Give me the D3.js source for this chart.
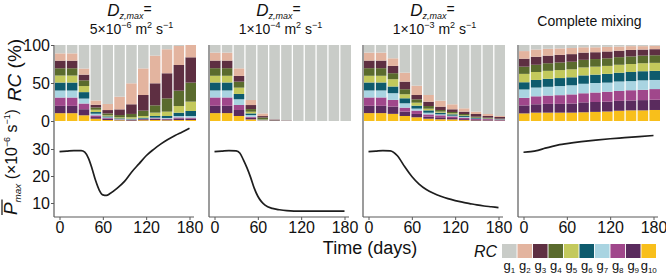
<!DOCTYPE html>
<html>
<head>
<meta charset="utf-8">
<script src="https://cdn.jsdelivr.net/npm/d3@7"></script>
<style>
  body { margin: 0; background: #fff; }
  svg { display: block; font-family: "Liberation Sans", Arial, sans-serif; }
</style>
</head>
<body>
<svg id="chart" width="666" height="275"></svg>
<script>
// Groups g1..g10 and their colours
const groups = ['g1', 'g2', 'g3', 'g4', 'g5', 'g6', 'g7', 'g8', 'g9', 'g10'];
const groupColors = ['#c9ccc8', '#e3b49f', '#5e2f42', '#5a6b2d', '#c3c95c',
                     '#0e5b6d', '#a9d4e1', '#a0478b', '#5a2b5e', '#f8bf1b'];

// Sampling days of the RC bars
const barDays = [15, 30, 45, 60, 75, 90, 105, 120, 135, 150, 165, 180];

// Relative contribution (%) per bar, g1..g10
const rc5e6 = [
  [11, 9.6, 10, 9.6, 9.2, 10.5, 9.2, 11, 9.6, 10.3],
  [11, 9.6, 10, 9.6, 9.2, 10.5, 9.2, 11, 9.6, 10.3],
  [31, 8, 7.5, 7.5, 8, 8.5, 6.5, 7.5, 8, 7.5],
  [73, 5.7, 3.5, 3, 3, 2.2, 2.2, 2.2, 2.2, 3],
  [77.6, 8, 4.4, 2.6, 1.3, 1.3, 0.9, 0.9, 1.7, 1.3],
  [68, 16.7, 7.5, 3, 1.3, 0.9, 0.4, 0.4, 0.9, 0.9],
  [50.4, 27.6, 12.7, 4.4, 1.8, 0.9, 0.4, 0.4, 0.9, 0.5],
  [30.8, 35, 20.6, 7, 2.2, 1.3, 0.4, 0.4, 1.3, 1],
  [14, 36.4, 29, 9.6, 4.4, 2.2, 0.9, 0.9, 1.3, 1.3],
  [5.6, 31.6, 33, 17.5, 5.7, 2.6, 0.9, 0.9, 1.3, 0.9],
  [1.3, 25, 33.8, 20.2, 8.8, 4.4, 1.8, 1.3, 2.1, 1.3],
  [0, 16.2, 33.3, 25, 12.3, 6.6, 2.2, 1.3, 1.8, 1.3],
];
const rc1e4 = [
  [10, 10.5, 10, 10, 8.8, 10.5, 9.2, 11, 9.6, 10.4],
  [10, 10.5, 10, 10, 8.8, 10.5, 9.2, 11, 9.6, 10.4],
  [30.7, 10, 7.5, 7.9, 8.3, 7, 7.5, 6.6, 7.9, 6.6],
  [72.4, 6.6, 5.3, 3.5, 2.2, 2.2, 2.2, 1.3, 2.2, 2.1],
  [90, 3.5, 1.8, 2.6, 0.4, 0.4, 0.4, 0.2, 0.3, 0.4],
  [97.8, 0.2, 1.3, 0.2, 0.1, 0.1, 0.1, 0.05, 0.1, 0.05],
  [99.2, 0.1, 0.5, 0.1, 0, 0, 0, 0, 0.1, 0],
  [100, 0, 0, 0, 0, 0, 0, 0, 0, 0],
  [100, 0, 0, 0, 0, 0, 0, 0, 0, 0],
  [100, 0, 0, 0, 0, 0, 0, 0, 0, 0],
  [100, 0, 0, 0, 0, 0, 0, 0, 0, 0],
  [100, 0, 0, 0, 0, 0, 0, 0, 0, 0],
];
const rc1e3 = [
  [10, 10.5, 10, 10, 8.8, 10.5, 9.2, 11, 9.6, 10.4],
  [10, 10.5, 10, 10, 8.8, 10.5, 9.2, 11, 9.6, 10.4],
  [17.5, 10, 9.6, 7.9, 9.6, 8.8, 8.8, 8.8, 9.6, 9.4],
  [36.4, 11.8, 10, 6.6, 5.3, 6.6, 5.7, 5.3, 5.7, 6.6],
  [53.5, 12.3, 5.7, 4.4, 3.9, 3.9, 2.6, 4.4, 4.4, 4.9],
  [65.8, 8.8, 5.7, 3.5, 2.2, 3.1, 2.2, 3.1, 2.6, 3],
  [73.2, 7.9, 4.4, 2.2, 1.3, 2.2, 1.3, 2.6, 2.6, 2.3],
  [78, 6.6, 3.5, 1.8, 1.3, 1.8, 0.9, 2.2, 1.8, 2.1],
  [83.3, 4.4, 3.1, 1.8, 0.9, 1.3, 0.9, 1.8, 1.3, 1.2],
  [87.7, 3.1, 3.5, 1.3, 0.4, 0.9, 0.4, 1.3, 0.9, 0.5],
  [90.8, 2.6, 2.2, 0.9, 0.4, 0.4, 0.2, 1.3, 0.8, 0.4],
  [93.4, 1.3, 2.2, 0.4, 0.2, 0.4, 0.2, 0.9, 0.7, 0.3],
];
const rcMix = [
  [8, 10, 10.5, 9.5, 11, 9.5, 11, 10, 10.5, 10],
  [6, 9.5, 10.5, 9.5, 10.5, 10, 11.5, 10.5, 11, 11],
  [5, 9, 10, 10, 10.5, 10.5, 11.5, 11, 11.5, 11],
  [4.5, 8.5, 10, 10, 10.5, 10.5, 12, 11.5, 11.5, 11],
  [4, 8, 10, 10, 10.5, 10.5, 12, 12, 12, 11],
  [3, 7, 9.5, 10, 10.5, 11, 12.5, 12, 13, 11.5],
  [3, 6.5, 9, 10, 10.5, 11, 12.5, 12.5, 13, 12],
  [2.5, 6, 9, 10, 10.5, 11.5, 12, 13, 13, 12.5],
  [2, 5.5, 8.5, 10, 10.5, 11.5, 12.5, 13, 13, 13.5],
  [1.5, 5, 8.5, 10, 10.5, 12, 12, 13.5, 13, 14],
  [1.5, 4.5, 8, 10, 10.5, 12, 12.5, 13.5, 13.5, 14],
  [1, 4.5, 8, 10, 10.5, 12, 12, 14, 13.5, 14.5],
];

// Mean Pmax (x10^-6 s^-1) over time
const days5e6 = [0, 10, 20, 30, 35, 40, 45, 50, 55, 60, 65, 70, 80, 90, 100, 110, 120, 130, 140, 150, 160, 170, 180];
const pmax5e6 = [29, 29.2, 29.4, 29.4, 28.8, 26.6, 22.8, 18.3, 14.8, 13, 12.8, 13.5, 15.5, 18, 21.5, 24.5, 27.5, 29.8, 31.8, 33.5, 35, 36.3, 37.7];
const days1e4 = [0, 10, 20, 30, 35, 40, 45, 50, 55, 60, 65, 70, 80, 90, 100, 120, 150, 180];
const pmax1e4 = [29, 29.2, 29.4, 29.3, 28.5, 26, 23, 19.5, 15.5, 12.5, 10.5, 9.2, 8, 7.5, 7.2, 7, 7, 7];
const days1e3 = [0, 10, 20, 30, 40, 50, 60, 70, 80, 90, 100, 110, 120, 130, 140, 150, 160, 170, 180];
const pmax1e3 = [29, 29.2, 29.4, 29.3, 27.5, 23.5, 19.8, 17, 15, 13.6, 12.5, 11.6, 10.9, 10.3, 9.8, 9.3, 8.9, 8.6, 8.3];
const daysMix = [0, 10, 20, 30, 40, 50, 60, 80, 100, 120, 140, 160, 180];
const pmaxMix = [28.8, 29, 29.5, 30.3, 31, 31.6, 32, 32.7, 33.3, 33.8, 34.2, 34.6, 35];

const timeTicks = [0, 60, 120, 180];
const rcTicks = [0, 50, 100];
const pmaxTicks = [10, 20, 30];

const panels = [
  {exp: '5×10', pow: '−6', rc: rc5e6, days: days5e6, pmax: pmax5e6},
  {exp: '1×10', pow: '−4', rc: rc1e4, days: days1e4, pmax: pmax1e4},
  {exp: '1×10', pow: '−3', rc: rc1e3, days: days1e3, pmax: pmax1e3},
  {title: 'Complete mixing', rc: rcMix, days: daysMix, pmax: pmaxMix},
];

// Layout
const axisXs = [54, 209, 363, 518];
const titleDx = [6, 0, 0, 0];
const axisColor = '#5a5a5a';
const svg = d3.select('#chart');

const yRC = d3.scaleLinear().domain([0, 100]).range([121, 45]);
const yP = d3.scaleLinear().domain([10, 30]).range([203, 149]);
const xAxisY = 217;

const stack = d3.stack().keys(groups.slice().reverse());
const color = d3.scaleOrdinal().domain(groups).range(groupColors);

panels.forEach((p, i) => {
  const ax = axisXs[i];
  const g = svg.append('g');

  const xBand = d3.scaleBand().domain(barDays).range([ax + 1, ax + 142]).paddingInner(0.11);
  const xT = d3.scaleLinear().domain([0, 180]).range([ax + 5.5, ax + 135.5]);

  // stacked RC bars
  const rows = p.rc.map((vals, j) => {
    const row = {day: barDays[j]};
    groups.forEach((k, n) => row[k] = vals[n]);
    return row;
  });
  g.selectAll('g.layer')
    .data(stack(rows))
    .join('g')
      .attr('class', 'layer')
      .attr('fill', d => color(d.key))
    .selectAll('rect')
    .data(d => d)
    .join('rect')
      .attr('x', d => xBand(d.data.day))
      .attr('width', xBand.bandwidth())
      .attr('y', d => yRC(d[1]))
      .attr('height', d => Math.max(0, yRC(d[0]) - yRC(d[1])));

  // Pmax line
  const line = d3.line()
    .x(d => xT(d[0]))
    .y(d => yP(d[1]))
    .curve(d3.curveMonotoneX);
  g.append('path')
    .datum(d3.zip(p.days, p.pmax))
    .attr('fill', 'none')
    .attr('stroke', '#1e1e1e')
    .attr('stroke-width', 1.7)
    .attr('d', line);

  // left axis line running through both plots
  g.append('line')
    .attr('x1', ax).attr('x2', ax)
    .attr('y1', yRC(100)).attr('y2', xAxisY)
    .attr('stroke', axisColor).attr('stroke-width', 1.2);

  // time axis
  g.append('g')
    .attr('transform', `translate(0,${xAxisY})`)
    .call(d3.axisBottom(xT).tickValues(timeTicks).tickSize(3).tickPadding(2))
    .call(a => a.select('.domain').remove())
    .call(a => a.selectAll('line').attr('stroke', axisColor))
    .call(a => a.selectAll('text').attr('font-size', 16).attr('font-family', null).attr('fill', '#111'));
  g.append('line')
    .attr('x1', ax).attr('x2', ax + 140)
    .attr('y1', xAxisY).attr('y2', xAxisY)
    .attr('stroke', axisColor).attr('stroke-width', 1.2);

  if (i === 0) {
    [[yRC, rcTicks], [yP, pmaxTicks]].forEach(([scale, ticks]) => {
      g.append('g')
        .attr('transform', `translate(${ax},0)`)
        .call(d3.axisLeft(scale).tickValues(ticks).tickSize(3).tickPadding(1))
        .call(a => a.select('.domain').remove())
        .call(a => a.selectAll('line').attr('stroke', axisColor))
        .call(a => a.selectAll('text').attr('font-size', 16).attr('font-family', null).attr('fill', '#111'));
    });
  }

  // titles
  const cx = (ax + 1 + ax + 142) / 2 + titleDx[i];
  if (p.title) {
    g.append('text').attr('x', cx).attr('y', 26).attr('text-anchor', 'middle')
      .attr('font-size', 14).attr('fill', '#111').text(p.title);
  } else {
    const t1 = g.append('text').attr('x', cx - 2).attr('y', 16).attr('text-anchor', 'middle')
      .attr('font-size', 17).attr('fill', '#111');
    t1.append('tspan').attr('font-style', 'italic').text('D');
    t1.append('tspan').attr('font-style', 'italic').attr('font-size', 9).attr('dy', 3).text('z,max');
    t1.append('tspan').attr('font-size', 14).attr('dy', -5).text('=');
    const t2 = g.append('text').attr('x', cx).attr('y', 34).attr('text-anchor', 'middle')
      .attr('font-size', 14).attr('fill', '#111');
    t2.append('tspan').text(p.exp);
    t2.append('tspan').attr('font-size', 9).attr('dy', -6).text(p.pow);
    t2.append('tspan').attr('dy', 6).text(' m');
    t2.append('tspan').attr('font-size', 9).attr('dy', -6).text('2');
    t2.append('tspan').attr('dy', 6).text(' s');
    t2.append('tspan').attr('font-size', 9).attr('dy', -6).text('−1');
  }
});

// y labels
const rcLab = svg.append('text')
  .attr('transform', 'translate(21,70) rotate(-90)')
  .attr('text-anchor', 'middle').attr('font-size', 19).attr('fill', '#111');
rcLab.append('tspan').attr('font-style', 'italic').text('RC');
rcLab.append('tspan').text(' (%)');

const pLab = svg.append('g').attr('transform', 'translate(17,215) rotate(-90)');
const pText = pLab.append('text').attr('font-size', 16).attr('fill', '#111');
pText.append('tspan').attr('font-style', 'italic').attr('font-size', 19).text('P');
pText.append('tspan').attr('font-style', 'italic').attr('font-size', 10).attr('dy', 4).text('max');
pText.append('tspan').attr('dy', -4).text(' (×10');
pText.append('tspan').attr('font-size', 9).attr('dy', -7).text('−6');
pText.append('tspan').attr('dy', 7).text(' s');
pText.append('tspan').attr('font-size', 9).attr('dy', -7).text('−1');
pText.append('tspan').attr('dy', 7).text(')');
// fit the label into the space below the RC label
const pLen = pText.node().getComputedTextLength();
const pScale = Math.min(1, 106 / pLen);
pText.attr('transform', `scale(${pScale})`);
// overline over P
const pEnd = pText.node().getEndPositionOfChar(0).x * pScale;
pLab.append('line')
  .attr('x1', 0).attr('x2', pEnd + 3)
  .attr('y1', -15).attr('y2', -15)
  .attr('stroke', '#111').attr('stroke-width', 1.2);

// time label
svg.append('text').attr('x', 370).attr('y', 254).attr('text-anchor', 'middle')
  .attr('font-size', 18).attr('fill', '#111').text('Time (days)');

// legend
const lx = d3.scaleBand().domain(groups).range([502, 656]).paddingInner(0.06);
svg.append('text').attr('x', 497).attr('y', 257).attr('text-anchor', 'end')
  .attr('font-size', 16).attr('font-style', 'italic').attr('fill', '#111').text('RC');
svg.selectAll('rect.legend')
  .data(groups)
  .join('rect')
    .attr('class', 'legend')
    .attr('x', d => lx(d))
    .attr('y', 244)
    .attr('width', lx.bandwidth())
    .attr('height', 14)
    .attr('fill', d => color(d));
svg.selectAll('text.legend')
  .data(groups)
  .join('text')
    .attr('class', 'legend')
    .attr('x', d => lx(d) + lx.bandwidth() / 2)
    .attr('y', 270)
    .attr('text-anchor', 'middle')
    .attr('font-size', 13)
    .attr('fill', '#111')
    .call(t => t.append('tspan').text('g'))
    .call(t => t.append('tspan').attr('font-size', 8).attr('dy', 3).text(d => d.slice(1)));
</script>
</body>
</html>
